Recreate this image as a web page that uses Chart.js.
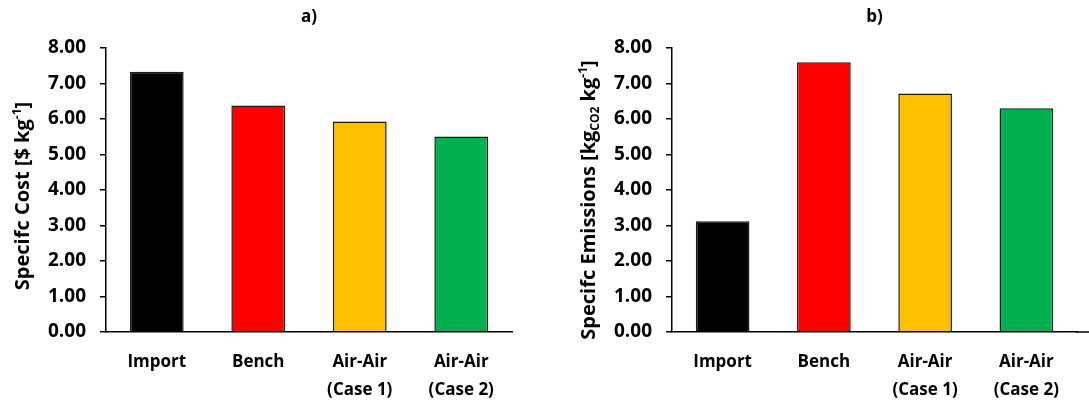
<!DOCTYPE html>
<html>
<head>
<meta charset="utf-8">
<script src="https://cdn.jsdelivr.net/npm/chart.js@4"></script>
<style>
  html, body { margin: 0; padding: 0; background: #ffffff; }
  #wrap { position: relative; width: 1089px; height: 402px; overflow: hidden; }
  canvas { position: absolute; top: 0; }
</style>
</head>
<body>
<div id="wrap">
  <canvas id="costChart" width="545" height="402" style="left:0"></canvas>
  <canvas id="emisChart" width="544" height="402" style="left:545px"></canvas>
</div>
<script>
// chart data
const categories = ['Import', 'Bench', ['Air-Air', '(Case 1)'], ['Air-Air', '(Case 2)']];
const costValues = [7.33, 6.38, 5.93, 5.51];
const emissionValues = [3.12, 7.60, 6.72, 6.30];
const barColors = ['#000000', '#FF0000', '#FFC000', '#00B050'];

const FONT = '"Open Sans", sans-serif';

// draws a rotated axis title made of pieces (for super/subscripts)
function drawRotatedTitle(ctx, parts, cx, cy) {
    ctx.save();
    ctx.translate(cx, cy);
    ctx.rotate(-Math.PI / 2);
    ctx.fillStyle = '#000';
    ctx.textBaseline = 'alphabetic';
    let total = 0;
    parts.forEach(p => {
        ctx.font = 'bold ' + p.size + 'px ' + FONT;
        p.w = ctx.measureText(p.text).width;
        total += p.w;
    });
    let x = -total / 2;
    parts.forEach(p => {
        ctx.font = 'bold ' + p.size + 'px ' + FONT;
        ctx.fillText(p.text, x, 7 + (p.dy || 0));
        x += p.w;
    });
    ctx.restore();
}

function makeChart(id, values, opts) {
    const ctx = document.getElementById(id).getContext('2d');
    return new Chart(ctx, {
        type: 'bar',
        data: {
            labels: categories,
            datasets: [{
                data: values,
                backgroundColor: barColors,
                borderColor: '#1a1a1a',
                borderWidth: 1.5,
                barPercentage: 0.53,
                categoryPercentage: 1
            }]
        },
        options: {
            responsive: false,
            animation: false,
            devicePixelRatio: 1,
            layout: { padding: { top: 48, right: opts.padRight, left: 0, bottom: 0 } },
            plugins: { legend: { display: false }, tooltip: { enabled: false } },
            scales: {
                x: {
                    afterFit: s => { s.height = 70; },
                    grid: { display: false },
                    border: { display: true, color: '#000', width: 1.5 },
                    ticks: {
                        color: '#000',
                        padding: 8,
                        maxRotation: 0,
                        autoSkip: false,
                        font: { family: FONT, size: 17, weight: 'bold', lineHeight: 1.65 }
                    }
                },
                y: {
                    min: 0,
                    max: 8,
                    afterFit: s => { s.width = opts.axisWidth; },
                    grid: { drawOnChartArea: false, drawTicks: true, tickLength: 6, color: '#000', lineWidth: 1.5 },
                    border: { display: true, color: '#000', width: 1.5 },
                    ticks: {
                        stepSize: 1,
                        color: '#000',
                        padding: 14,
                        callback: v => v.toFixed(2),
                        font: { family: FONT, size: 19, weight: 'bold' }
                    }
                }
            }
        },
        plugins: [{
            id: 'decor',
            afterDraw(chart) {
                const c = chart.ctx;
                const area = chart.chartArea;
                // panel letter
                c.save();
                c.fillStyle = '#000';
                c.font = 'bold 17px ' + FONT;
                c.textAlign = 'center';
                c.textBaseline = 'middle';
                c.fillText(opts.letter, (area.left + area.right) / 2, 17);
                // x axis line runs on to the edge on the right panel
                if (opts.extendAxis) {
                    const y = chart.scales.x.top;
                    c.strokeStyle = '#000';
                    c.lineWidth = 1.5;
                    c.beginPath();
                    c.moveTo(area.right - 1, y);
                    c.lineTo(chart.width, y);
                    c.stroke();
                }
                c.restore();
                drawRotatedTitle(c, opts.title, opts.titleX, opts.titleY);
            }
        }]
    });
}

makeChart('costChart', costValues, {
    padRight: 33,
    axisWidth: 106,
    letter: 'a)',
    extendAxis: false,
    titleX: 22,
    titleY: 196,
    title: [
        { text: 'Specifc Cost [$ kg', size: 20 },
        { text: '-1', size: 12, dy: -8 },
        { text: ']', size: 20 }
    ]
});

makeChart('emisChart', emissionValues, {
    padRight: 12,
    axisWidth: 127,
    letter: 'b)',
    extendAxis: true,
    titleX: 43,
    titleY: 200,
    title: [
        { text: 'Specifc Emissions [kg', size: 20 },
        { text: 'CO2', size: 12, dy: 4 },
        { text: ' kg', size: 20 },
        { text: '-1', size: 12, dy: -8 },
        { text: ']', size: 20 }
    ]
});
</script>
</body>
</html>
